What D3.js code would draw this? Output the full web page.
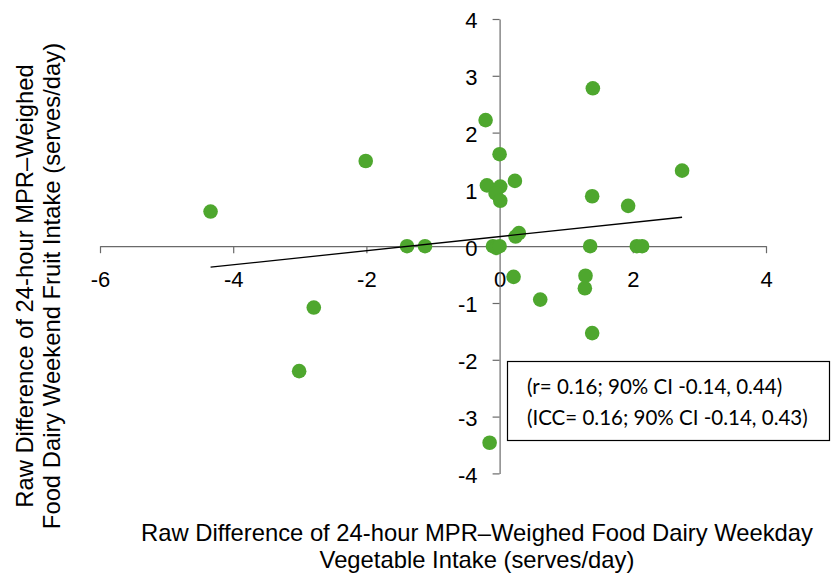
<!DOCTYPE html>
<html>
<head>
<meta charset="utf-8">
<script src="https://cdn.jsdelivr.net/npm/d3@7"></script>
<style>
  html, body { margin: 0; padding: 0; background: #fff; }
  svg { display: block; }
</style>
</head>
<body>
<svg id="chart" width="839" height="573"></svg>
<script>
// ---- Data ----
const xValues = [-4.34, -2.01, -3.01, -2.79, -1.39, -1.12, -0.21, -0.19, 0.00, 0.01, -0.06, 0.01, 0.23, -0.10, -0.05, 0.00, 0.24, 0.29, 0.21, -0.15, 1.40, 2.74, 1.39, 1.93, 1.36, 2.06, 2.14, 1.29, 1.28, 0.61, 1.39];
const yValues = [0.61, 1.50, -2.20, -1.08, 0.00, 0.00, 2.22, 1.07, 1.62, 1.05, 0.93, 0.80, 1.15, 0.00, -0.03, 0.00, 0.17, 0.23, -0.54, -3.46, 2.78, 1.33, 0.88, 0.71, 0.00, 0.00, 0.00, -0.52, -0.74, -0.94, -1.53];
const trendX = [-4.34, 2.74];
const trendY = [-0.37, 0.51];
const xTicks = [-6, -4, -2, 0, 2, 4];
const yTicks = [-4, -3, -2, -1, 0, 1, 2, 3, 4];
const xTitle = ["Raw Difference of 24-hour MPR\u2013Weighed Food Dairy Weekday", "Vegetable Intake (serves/day)"];
const yTitle = ["Raw Difference of 24-hour MPR\u2013Weighed", "Food Dairy Weekend Fruit Intake (serves/day)"];
const statLines = ["(r= 0.16; 90% CI -0.14, 0.44)", "(ICC= 0.16; 90% CI -0.14, 0.43)"];

// ---- Chart ----
const svg = d3.select("#chart");
const x = d3.scaleLinear().domain([-6, 4]).range([100, 766]);
const y = d3.scaleLinear().domain([-4, 4]).range([473.4, 19]);
const axisColor = "#6a6a6a";
const tickFont = "'Liberation Sans', Arial, sans-serif";

// X axis
const gx = svg.append("g")
  .attr("transform", `translate(0,${y(0)})`)
  .attr("font-family", null)
  .call(d3.axisBottom(x).tickValues(xTicks).tickSizeInner(7).tickSizeOuter(0).tickPadding(18).tickFormat(d3.format("d")));
gx.attr("font-family", tickFont).attr("font-size", 22);
gx.select(".domain").attr("stroke", axisColor).attr("stroke-width", 1.2);
gx.selectAll(".tick line").attr("stroke", axisColor).attr("stroke-width", 1.2);
gx.selectAll(".tick text").attr("fill", "#000").style("font-family", tickFont).style("font-size", "22px")
  .text(d => d < 0 ? "-" + Math.abs(d) : d);

// Y axis
const gy = svg.append("g")
  .attr("transform", `translate(${x(0)},0)`)
  .call(d3.axisLeft(y).tickValues(yTicks).tickSizeInner(7).tickSizeOuter(0).tickPadding(15).tickFormat(d3.format("d")));
gy.attr("font-family", tickFont).attr("font-size", 22);
gy.select(".domain").attr("stroke", axisColor).attr("stroke-width", 1.2);
gy.selectAll(".tick line").attr("stroke", axisColor).attr("stroke-width", 1.2);
gy.selectAll(".tick text").attr("fill", "#000").style("font-family", tickFont).style("font-size", "22px")
  .attr("dy", "0.4em")
  .text(d => d < 0 ? "-" + Math.abs(d) : d);

// Points
svg.append("g").selectAll("circle")
  .data(xValues.map((v, i) => [v, yValues[i]]))
  .join("circle")
  .attr("cx", d => x(d[0]))
  .attr("cy", d => y(d[1]))
  .attr("r", 7.3)
  .attr("fill", "#4ea72e");

// Trend line
svg.append("line")
  .attr("x1", x(trendX[0])).attr("y1", y(trendY[0]))
  .attr("x2", x(trendX[1])).attr("y2", y(trendY[1]))
  .attr("stroke", "#000").attr("stroke-width", 1.3);

// Stats box
const box = svg.append("g");
box.append("rect")
  .attr("x", 507.5).attr("y", 361.5).attr("width", 322).attr("height", 79)
  .attr("fill", "#fff").attr("stroke", "#000").attr("stroke-width", 1.2);
box.selectAll("text").data(statLines).join("text")
  .attr("x", 527).attr("y", (d, i) => 394 + i * 31)
  .style("font-family", "Lato, 'Open Sans', sans-serif")
  .style("font-size", "20.5px")
  .attr("fill", "#000")
  .text(d => d);

// X title
svg.append("g").selectAll("text").data(xTitle).join("text")
  .attr("x", 477).attr("y", (d, i) => 541 + i * 27)
  .attr("text-anchor", "middle")
  .style("font-family", tickFont).style("font-size", "23.8px")
  .attr("fill", "#000")
  .text(d => d);

// Y title
svg.append("g").attr("transform", "translate(0,286) rotate(-90)")
  .selectAll("text").data(yTitle).join("text")
  .attr("x", 0).attr("y", (d, i) => 33 + i * 27)
  .attr("text-anchor", "middle")
  .style("font-family", tickFont).style("font-size", "23.8px")
  .attr("fill", "#000")
  .text(d => d);
</script>
</body>
</html>
